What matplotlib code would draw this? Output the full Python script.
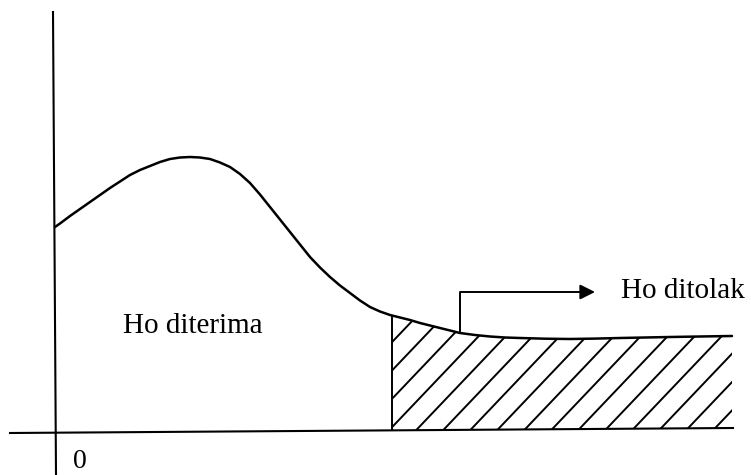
import matplotlib
matplotlib.use("Agg")
import matplotlib.pyplot as plt
import numpy as np
from matplotlib.patches import Polygon

# curve (pixel coordinates, y grows downward)
curve_x = [55, 60, 70, 80, 90, 100, 110, 120, 130, 140, 150, 160, 170, 180,
           190, 200, 210, 220, 230, 240, 250, 260, 270, 280, 290, 300, 310,
           320, 330, 340, 350, 360, 370, 380, 390, 400, 410, 420, 430, 440,
           450, 460, 475, 490, 505, 520, 545, 570, 595, 620, 645, 670, 700, 732]
curve_y = [227, 223.5, 216, 209, 202, 195, 188, 181.5, 175, 170, 166, 162,
           159, 157.5, 157, 157.5, 159, 162.5, 167, 174, 183, 194.5, 207,
           219.5, 232, 244.5, 257, 267.5, 277, 285.5, 293, 300.5, 307, 311.5,
           315, 317.5, 320, 323, 325.5, 328, 330.5, 333, 335, 336.5, 337.5,
           338, 338.7, 339, 338.6, 338, 337.5, 337, 336.5, 336]

y_axis_x = [53, 56]
y_axis_y = [12, 475]
x_axis_x = [10, 733]
x_axis_y = [433, 428]

crit_x = 392          # start of rejection region
arrow_x = 460
arrow_top = 292
arrow_end = 595

label_accept = "Ho diterima"
label_reject = "Ho ditolak"
label_zero = "0"

FONT = "Liberation Serif"
INK = "black"

fig = plt.figure(figsize=(7.51, 4.75), dpi=100)
ax = fig.add_axes([0, 0, 1, 1])
ax.set_xlim(0, 751)
ax.set_ylim(475, 0)
ax.axis("off")

ax.plot(y_axis_x, y_axis_y, color=INK, lw=1.5)
ax.plot(x_axis_x, x_axis_y, color=INK, lw=1.5)
ax.plot(curve_x, curve_y, color=INK, lw=1.8, solid_joinstyle="round",
        solid_capstyle="round")

# rejection region, hatched
cx = np.array(curve_x, dtype=float)
cy = np.array(curve_y, dtype=float)
top_y = np.interp(crit_x, cx, cy)
keep = cx > crit_x
bottom_y = np.interp([crit_x, cx[-1]], x_axis_x, x_axis_y)
poly_pts = ([(crit_x, top_y)] + list(zip(cx[keep], cy[keep]))
            + [(cx[-1], bottom_y[1]), (crit_x, bottom_y[0])])
region = Polygon(poly_pts, closed=True, facecolor="none", edgecolor="none")
ax.add_patch(region)

spacing = 27
for x0 in np.arange(crit_x - 300, cx[-1] + 10, spacing):
    ln, = ax.plot([x0, x0 + 320], [bottom_y[0], bottom_y[0] - 320 * 1.05],
                  color=INK, lw=1.4)
    ln.set_clip_path(region)

ax.plot([crit_x, crit_x], [top_y, bottom_y[0]], color=INK, lw=1.4)

# arrow pointing to "Ho ditolak"
arrow_base = np.interp(arrow_x, cx, cy)
ax.plot([arrow_x, arrow_x, arrow_end - 12], [arrow_base, arrow_top, arrow_top],
        color=INK, lw=1.4)
ax.annotate("", xy=(arrow_end, arrow_top), xytext=(arrow_end - 14, arrow_top),
            arrowprops=dict(arrowstyle="-|>,head_length=0.9,head_width=0.45",
                            color=INK, lw=1.4, shrinkA=0, shrinkB=0))

ax.text(123, 326, label_accept, fontsize=21, family=FONT, color=INK,
        ha="left", va="center")
ax.text(621, 291, label_reject, fontsize=21, family=FONT, color=INK,
        ha="left", va="center")
ax.text(73, 461, label_zero, fontsize=20, family=FONT, color=INK,
        ha="left", va="center")

fig.savefig("out.png", dpi=100)
plt.close(fig)
